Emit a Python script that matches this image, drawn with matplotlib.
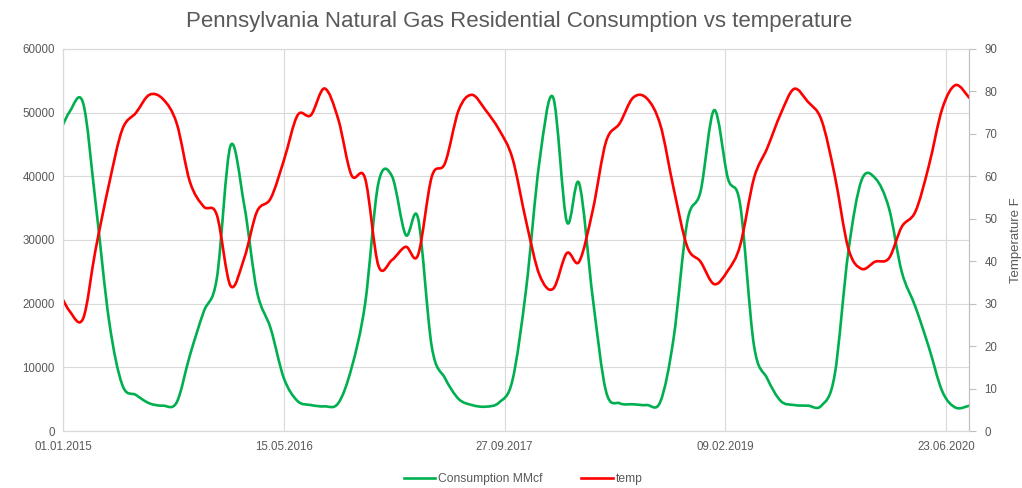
import numpy as np
import pandas as pd
import matplotlib
matplotlib.use('Agg')
import matplotlib.pyplot as plt
import matplotlib.dates as mdates
from matplotlib.path import Path
from matplotlib.patches import PathPatch
from matplotlib.lines import Line2D

plt.rcParams['font.family'] = ['Liberation Sans', 'DejaVu Sans']

# monthly values, plotted at the 15th (first point Dec 2014 is clipped by the axis)
dates = pd.date_range('2014-12-01', '2020-08-01', freq='MS') + pd.Timedelta(days=14)

consumption = [45400,
               50100, 51500, 36000, 17200, 7200, 5650, 4350, 3980, 4500, 11900, 18700, 24000,
               44800, 35500, 21900, 16100, 8270, 4700, 4080, 3870, 4350, 9840, 20000, 38900,
               40000, 30800, 33400, 13250, 8300, 5030, 4080, 3820, 4500, 8000, 22400, 42300,
               52400, 32900, 38900, 20800, 6200, 4350, 4200, 4080, 4600, 14550, 32900, 37600,
               50400, 39700, 35500, 13500, 8270, 4700, 4080, 3980, 3980, 8800, 28200, 39400,
               39700, 35000, 25000, 19500, 13250, 6200, 3670, 3980]

temp = [34.5,
        28.3, 26.5, 42.6, 58.3, 71.1, 75.0, 79.2, 78.2, 72.5, 58.7, 52.9, 50.9,
        34.2, 40.7, 51.7, 54.8, 63.8, 74.4, 74.4, 80.7, 73.5, 60.3, 59.5, 39.0,
        40.3, 43.4, 41.5, 59.9, 63.1, 75.6, 79.2, 75.6, 70.9, 64.2, 49.3, 36.8,
        33.5, 41.9, 39.9, 52.1, 68.2, 72.5, 78.5, 78.4, 72.1, 57.2, 43.4, 39.9,
        34.6, 37.8, 43.8, 59.5, 66.6, 74.8, 80.6, 77.6, 73.3, 60.3, 43.0, 38.2,
        39.9, 40.7, 48.1, 51.7, 62.3, 76.0, 81.5, 78.5]

tick_dates = ['2015-01-01', '2016-05-15', '2017-09-27', '2019-02-09', '2020-06-23']

green = '#00B050'
red = '#FF0000'
grey_txt = '#595959'
grid_c = '#d9d9d9'


def smooth_path(x, y):
    # excel-like smoothed line: bezier through every point
    x = np.asarray(x, float)
    y = np.asarray(y, float)
    n = len(x)
    verts = [(x[0], y[0])]
    codes = [Path.MOVETO]
    for i in range(n - 1):
        i0 = max(i - 1, 0)
        i3 = min(i + 2, n - 1)
        c1 = (x[i] + (x[i + 1] - x[i0]) / 6, y[i] + (y[i + 1] - y[i0]) / 6)
        c2 = (x[i + 1] - (x[i3] - x[i]) / 6, y[i + 1] - (y[i3] - y[i]) / 6)
        verts += [c1, c2, (x[i + 1], y[i + 1])]
        codes += [Path.CURVE4] * 3
    return Path(verts, codes)


xnum = mdates.date2num(dates.to_pydatetime())

fig = plt.figure(figsize=(10.22, 4.88), dpi=100)
ax = fig.add_axes([0.0619, 0.1168, 0.8865, 0.7828])
ax2 = ax.twinx()

ax.set_xlim(mdates.date2num(pd.Timestamp('2015-01-01')), xnum[-1])
ax.set_ylim(0, 60000)
ax2.set_ylim(0, 90)

ax.add_patch(PathPatch(smooth_path(xnum, consumption), fill=False, edgecolor=green, lw=1.9,
                       capstyle='round', joinstyle='round'))
ax2.add_patch(PathPatch(smooth_path(xnum, temp), fill=False, edgecolor=red, lw=1.9,
                        capstyle='round', joinstyle='round'))

ax.set_yticks(np.arange(0, 60001, 10000))
ax2.set_yticks(np.arange(0, 91, 10))
ax.set_xticks(mdates.date2num(pd.to_datetime(tick_dates)))
ax.xaxis.set_major_formatter(mdates.DateFormatter('%d.%m.%Y'))

ax.grid(True, color=grid_c, lw=0.8)
ax.set_axisbelow(True)

for a in (ax, ax2):
    for s in a.spines.values():
        s.set_color(grid_c)
        s.set_linewidth(0.8)
ax2.spines['right'].set_color('#bfbfbf')

ax.tick_params(axis='both', length=0, labelsize=8.3, labelcolor=grey_txt, pad=6)
ax.tick_params(axis='x', pad=7)
ax2.tick_params(axis='y', length=5, color='#bfbfbf', labelsize=8.3, labelcolor=grey_txt, pad=6)

ax2.set_ylabel('Temperature F', fontsize=9.5, color=grey_txt, labelpad=9)

fig.suptitle('Pennsylvania Natural Gas Residential Consumption vs temperature',
             fontsize=16, color=grey_txt, x=0.508, y=0.978)

handles = [Line2D([], [], color=green, lw=1.9), Line2D([], [], color=red, lw=1.9)]
fig.legend(handles, ['Consumption MMcf', 'temp'], loc='lower center', bbox_to_anchor=(0.512, -0.017),
           ncol=2, frameon=False, fontsize=8.7, handlelength=2.6, handletextpad=0.25,
           columnspacing=3.2, labelcolor=grey_txt)

fig.savefig('out.png', dpi=100)
